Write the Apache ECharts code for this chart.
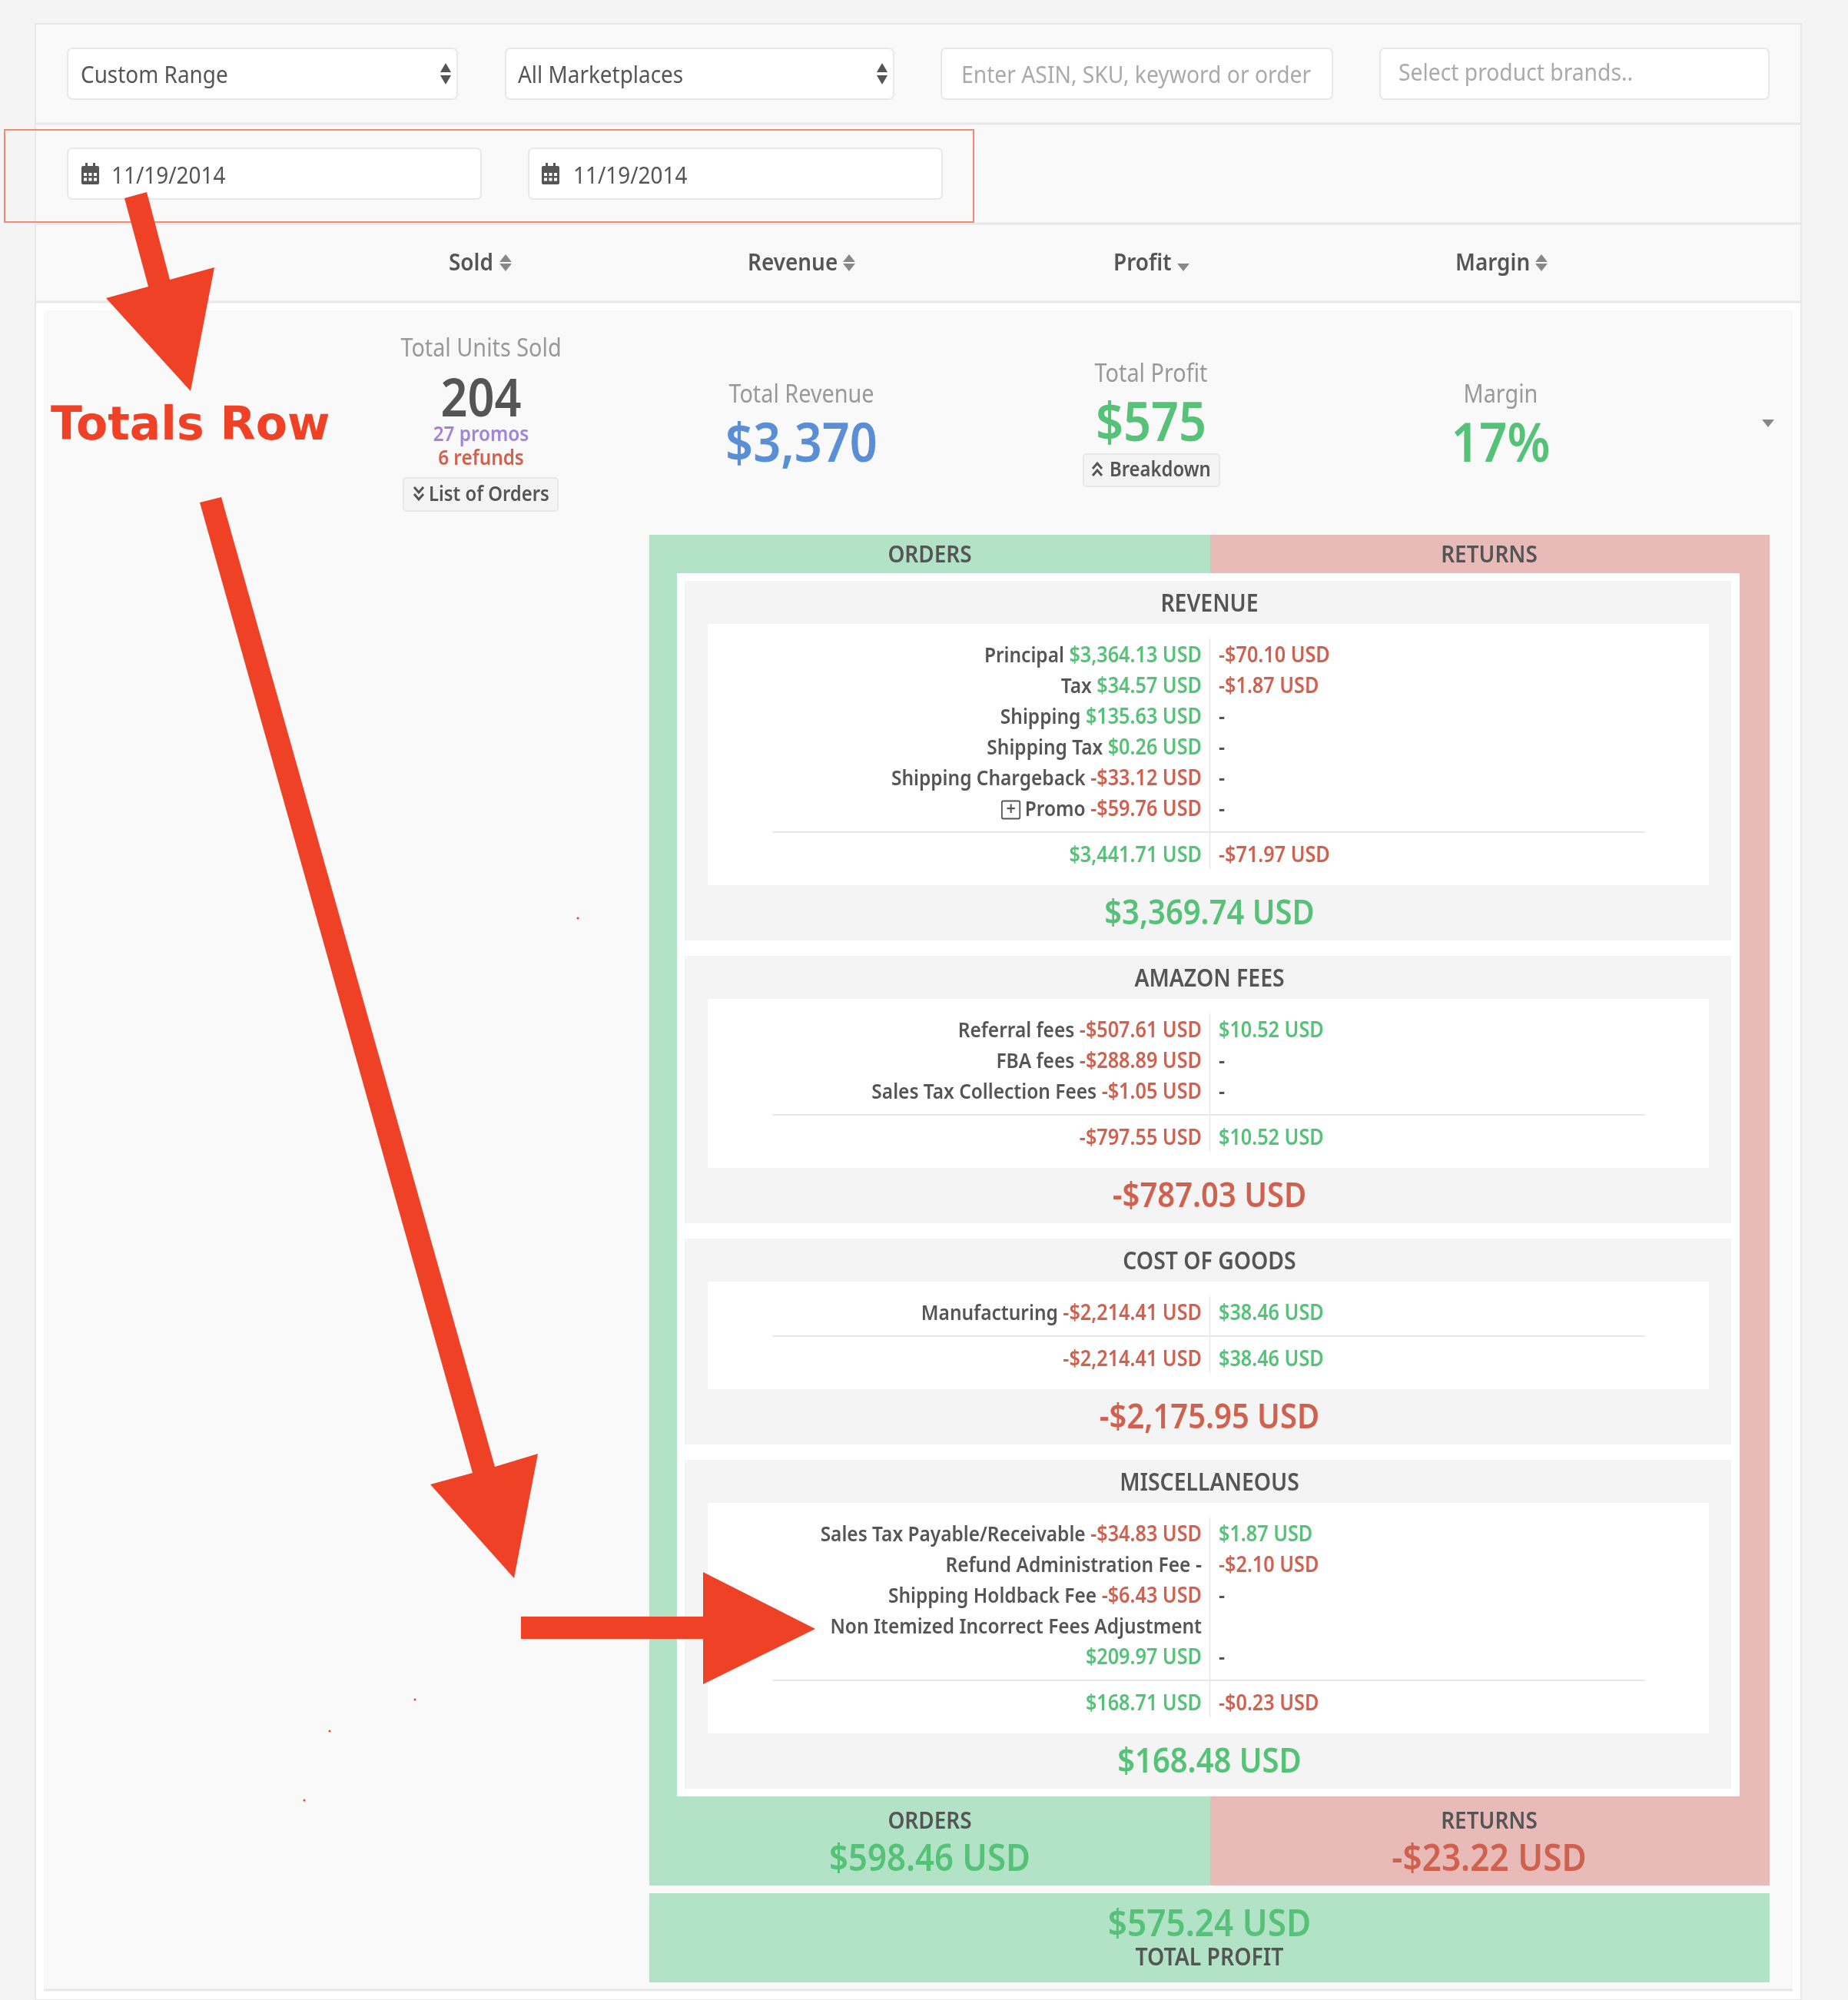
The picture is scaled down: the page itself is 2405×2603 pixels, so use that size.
<!DOCTYPE html>
<html lang="en">
<head>
<meta charset="UTF-8">
<script src="https://cdn.jsdelivr.net/npm/echarts@6/dist/echarts.min.js"></script>
<style>
  html, body { margin: 0; padding: 0; background: #f4f4f4; }
  #main { width: 2405px; height: 2603px; }
</style>
</head>
<body>
<div id="main"></div>
<script type="text/javascript">
// values
var filters = ['Custom Range', 'All Marketplaces'];
var placeholders = ['Enter ASIN, SKU, keyword or order', 'Select product brands..'];
var dates = ['11/19/2014', '11/19/2014'];
var columns = ['Sold', 'Revenue', 'Profit', 'Margin'];

var revenueNames = ['Principal', 'Tax', 'Shipping', 'Shipping Tax', 'Shipping Chargeback', 'Promo'];
var revenueOrders = ['$3,364.13 USD', '$34.57 USD', '$135.63 USD', '$0.26 USD', '-$33.12 USD', '-$59.76 USD'];
var revenueReturns = ['-$70.10 USD', '-$1.87 USD', '-', '-', '-', '-'];
var revenueTotals = ['$3,441.71 USD', '-$71.97 USD', '$3,369.74 USD'];

var feeNames = ['Referral fees', 'FBA fees', 'Sales Tax Collection Fees'];
var feeOrders = ['-$507.61 USD', '-$288.89 USD', '-$1.05 USD'];
var feeReturns = ['$10.52 USD', '-', '-'];
var feeTotals = ['-$797.55 USD', '$10.52 USD', '-$787.03 USD'];

var cogsNames = ['Manufacturing'];
var cogsOrders = ['-$2,214.41 USD'];
var cogsReturns = ['$38.46 USD'];
var cogsTotals = ['-$2,214.41 USD', '$38.46 USD', '-$2,175.95 USD'];

var miscNames = ['Sales Tax Payable/Receivable', 'Refund Administration Fee', 'Shipping Holdback Fee', 'Non Itemized Incorrect Fees Adjustment', ''];
var miscOrders = ['-$34.83 USD', '-', '-$6.43 USD', '', '$209.97 USD'];
var miscReturns = ['$1.87 USD', '-$2.10 USD', '-', '', '-'];
var miscTotals = ['$168.71 USD', '-$0.23 USD', '$168.48 USD'];

var FONT = 'Noto Sans';
var SX = 0.9;
var GREEN = '#55c277', RED = '#d0614f', BLUE = '#5a8fd6', PURPLE = '#a184d9';
var DARK = '#555555', GREY = '#999999', ARROW = '#ee4125', LINE = '#e8e8e8';

var g = [];

function rect(x, y, w, h, fill, stroke, r) {
    g.push({ type: 'rect', shape: { x: x, y: y, width: w, height: h, r: r || 0 },
        style: { fill: fill, stroke: stroke || null, lineWidth: stroke ? 2 : 0 } });
}
function txt(s, x, y, size, color, align, weight) {
    // Noto sits a little higher than the screenshot font
    var dy = size > 40 ? 3 : 2;
    g.push({ type: 'text', x: x, y: y + dy, scaleX: SX, style: { text: s, fill: color, align: align || 'left', verticalAlign: 'middle',
        fontSize: size, fontWeight: weight || 'normal', fontFamily: FONT } });
}
function poly(pts, fill) {
    g.push({ type: 'polygon', shape: { points: pts }, style: { fill: fill } });
}
function line(x1, y1, x2, y2, color, w) {
    g.push({ type: 'line', shape: { x1: x1, y1: y1, x2: x2, y2: y2 }, style: { stroke: color, lineWidth: w } });
}
function moneyColor(v) {
    if (v === '-') return DARK;
    return v.charAt(0) === '-' ? RED : GREEN;
}
function caretUp(x, y, w, h, c) { poly([[x - w / 2, y + h], [x, y], [x + w / 2, y + h]], c); }
function caretDown(x, y, w, h, c) { poly([[x - w / 2, y], [x + w / 2, y], [x, y + h]], c); }
function calendar(x, y) {
    rect(x, y + 4, 23, 24, DARK, null, 2);
    rect(x + 5, y, 3, 7, DARK);
    rect(x + 15, y, 3, 7, DARK);
    for (var i = 0; i < 3; i++) {
        for (var j = 0; j < 2; j++) {
            rect(x + 3 + i * 6.5, y + 13 + j * 6.5, 4, 4, '#ffffff');
        }
    }
}
function chevrons(x, y, up, c) {
    for (var i = 0; i < 2; i++) {
        var yy = y + i * 9;
        var a = up ? yy + 7 : yy, b = up ? yy : yy + 7;
        g.push({ type: 'polyline', shape: { points: [[x - 6, a], [x, b], [x + 6, a]] },
            style: { stroke: c, lineWidth: 3, fill: null } });
    }
}

// page frame
rect(46, 31, 2298, 2572, '#ffffff', LINE);
rect(47, 32, 2296, 360, '#f9f9f9');
line(47, 161, 2343, 161, LINE, 3);
line(47, 291, 2343, 291, LINE, 3);
line(47, 393, 2343, 393, LINE, 3);
rect(57, 404, 2276, 2185, '#f9f9f9');
line(57, 2590, 2333, 2590, LINE, 3);

// filter row
rect(88, 63, 507, 66, '#ffffff', LINE, 6);
rect(658, 63, 505, 66, '#ffffff', LINE, 6);
rect(1225, 63, 509, 66, '#ffffff', LINE, 6);
rect(1796, 63, 506, 66, '#ffffff', LINE, 6);
txt(filters[0], 105, 97, 31, DARK);
txt(filters[1], 674, 97, 31, DARK);
caretUp(580, 82, 14, 12, DARK); caretDown(580, 98, 14, 12, DARK);
caretUp(1148, 82, 14, 12, DARK); caretDown(1148, 98, 14, 12, DARK);
txt(placeholders[0], 1251, 97, 31.4, '#aaaaaa');
txt(placeholders[1], 1820, 94, 31.4, '#aaaaaa');

// date row
rect(88, 193, 538, 66, '#ffffff', LINE, 6);
rect(688, 193, 538, 66, '#ffffff', LINE, 6);
calendar(106, 212);
calendar(705, 212);
txt(dates[0], 145, 228, 31, DARK);
txt(dates[1], 746, 228, 31, DARK);

// column headers with sort carets
var colX = [584, 973, 1449, 1894];
var caretX = [658, 1105, 1540, 2006];
for (var c = 0; c < columns.length; c++) {
    txt(columns[c], colX[c], 341, 31, DARK, 'left', 600);
    if (columns[c] !== 'Profit') caretUp(caretX[c], 331, 16, 10, '#888888');
    caretDown(caretX[c], 343, 16, 10, '#888888');
}

// totals row
txt('Total Units Sold', 626, 453, 32, GREY, 'center');
txt('204', 626, 520, 68, DARK, 'center', 600);
txt('27 promos', 626, 564, 27, PURPLE, 'center', 600);
txt('6 refunds', 626, 595, 27, RED, 'center', 600);
rect(525, 622, 201, 43, '#f4f4f4', LINE, 4);
chevrons(545, 634, false, DARK);
txt('List of Orders', 558, 642, 26.5, DARK, 'left', 600);

txt('Total Revenue', 1043, 513, 32, GREY, 'center');
txt('$3,370', 1043, 578, 70, BLUE, 'center', 600);

txt('Total Profit', 1498, 486, 32, GREY, 'center');
txt('$575', 1498, 551, 70, GREEN, 'center', 600);
rect(1410, 591, 177, 42, '#f4f4f4', LINE, 4);
chevrons(1428, 603, true, DARK);
txt('Breakdown', 1444, 610, 26.5, DARK, 'left', 600);

txt('Margin', 1953, 513, 32, GREY, 'center');
txt('17%', 1953, 578, 71, GREEN, 'center', 600);
caretDown(2301, 546, 16, 10, '#888888');

// breakdown frame
rect(845, 696, 730, 1758, '#b2e3c6');
rect(1575, 696, 728, 1758, '#e9bbb8');
rect(881, 746, 1383, 1592, '#ffffff');
txt('ORDERS', 1210, 721, 31, DARK, 'center', 600);
txt('RETURNS', 1938, 721, 31, DARK, 'center', 600);

var richRow = {
    n: { fontFamily: FONT, fontSize: 27.2, fontWeight: 600, fill: DARK },
    g: { fontFamily: FONT, fontSize: 28, fontWeight: 600, fill: GREEN },
    r: { fontFamily: FONT, fontSize: 28, fontWeight: 600, fill: RED },
    d: { fontFamily: FONT, fontSize: 28, fontWeight: 600, fill: DARK },
    box: { fontFamily: FONT, fontSize: 24, fontWeight: 600, fill: DARK, borderColor: DARK, borderWidth: 2, borderRadius: 2,
        width: 26, height: 23, align: 'center', lineHeight: 23 }
};
function valueTag(v) {
    if (v === '') return '';
    var k = moneyColor(v) === GREEN ? 'g' : (moneyColor(v) === RED ? 'r' : 'd');
    return '{' + k + '|' + v + '}';
}
function rowText(name, value) {
    var s = '';
    if (name === 'Promo') s += '{box|+}{d| }';
    if (name) s += '{n|' + name + '}';
    if (name && value) s += '{d| }';
    return s + valueTag(value);
}
function richText(s, x, y, align) {
    g.push({ type: 'text', x: x, y: y + 1, scaleX: SX, style: { text: s, rich: richRow, align: align, verticalAlign: 'middle' } });
}

// one breakdown block, returns the y where it ends
function section(top, title, names, orders, returns, totals) {
    var n = names.length;
    var sepY = top + 97 + (n - 1) * 40 + 30;
    var totalY = sepY + 30;
    var boxEnd = totalY + 39;
    var end = boxEnd + 72;
    rect(891, top, 1362, end - top, '#f4f4f4');
    rect(921, top + 56, 1303, boxEnd - top - 56, '#ffffff');
    txt(title, 1574, top + 29, 31.5, DARK, 'center', 600);
    line(1574.5, top + 75, 1574.5, totalY + 18, LINE, 1.5);
    for (var i = 0; i < n; i++) {
        var y = top + 97 + i * 40;
        richText(rowText(names[i], orders[i]), 1564, y, 'right');
        if (returns[i]) richText(valueTag(returns[i]), 1586, y, 'left');
    }
    line(1005, sepY, 2141, sepY, LINE, 2);
    richText(valueTag(totals[0]), 1564, totalY, 'right');
    richText(valueTag(totals[1]), 1586, totalY, 'left');
    txt(totals[2], 1574, boxEnd + 35, 44.4, moneyColor(totals[2]), 'center', 600);
    return end;
}
var top1 = 756;
var top2 = section(top1, 'REVENUE', revenueNames, revenueOrders, revenueReturns, revenueTotals) + 20;
var top3 = section(top2, 'AMAZON FEES', feeNames, feeOrders, feeReturns, feeTotals) + 20;
var top4 = section(top3, 'COST OF GOODS', cogsNames, cogsOrders, cogsReturns, cogsTotals) + 20;
section(top4, 'MISCELLANEOUS', miscNames, miscOrders, miscReturns, miscTotals);

// footer bands
txt('ORDERS', 1210, 2369, 31, DARK, 'center', 600);
txt('RETURNS', 1938, 2369, 31, DARK, 'center', 600);
txt('$598.46 USD', 1210, 2418, 48.5, GREEN, 'center', 600);
txt('-$23.22 USD', 1938, 2418, 49, RED, 'center', 600);
rect(845, 2464, 1458, 116, '#b2e3c6');
txt('$575.24 USD', 1574, 2503, 49, GREEN, 'center', 600);
txt('TOTAL PROFIT', 1574, 2547, 31.5, DARK, 'center', 600);

// annotations drawn over the screenshot
rect(6, 169, 1261, 120, null, '#ee8a78');
poly([[162, 258], [191, 250], [221, 364], [279, 348], [248, 509], [138, 388], [193, 373]], ARROW);
g.push({ type: 'text', x: 66, y: 556, style: { text: 'Totals Row', fill: ARROW, verticalAlign: 'middle',
    fontSize: 60, fontWeight: 'bold', fontFamily: 'DejaVu Sans' } });
poly([[260, 654], [288, 647], [644, 1909], [700, 1892], [669, 2054], [560, 1932], [615, 1917]], ARROW);
poly([[678, 2104], [915, 2104], [915, 2046], [1061, 2120], [915, 2192], [915, 2133], [678, 2133]], ARROW);
g.push({ type: 'circle', shape: { cx: 752, cy: 1195, r: 1.5 }, style: { fill: ARROW } });
g.push({ type: 'circle', shape: { cx: 540, cy: 2212, r: 1.5 }, style: { fill: ARROW } });
g.push({ type: 'circle', shape: { cx: 429, cy: 2253, r: 1.5 }, style: { fill: ARROW } });
g.push({ type: 'circle', shape: { cx: 396, cy: 2343, r: 1.5 }, style: { fill: ARROW } });

var myChart = echarts.init(document.getElementById('main'));
myChart.setOption({
    backgroundColor: '#f4f4f4',
    animation: false,
    graphic: { elements: g }
});
</script>
</body>
</html>
